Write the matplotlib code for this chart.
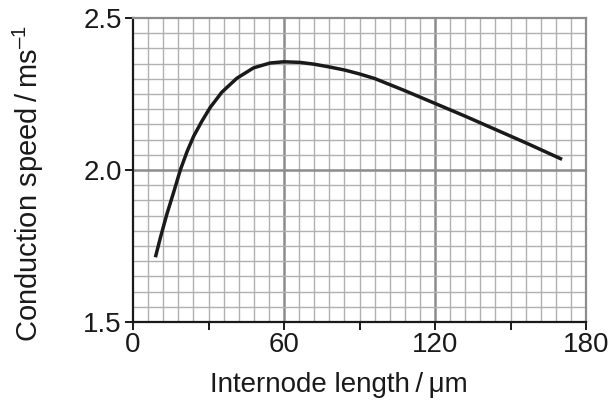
import matplotlib
matplotlib.use("Agg")
import matplotlib.pyplot as plt
import numpy as np

internode_length = [8.9, 10.9, 13.5, 16.2, 18.8, 21.5, 24.1, 27.4, 30.7, 35.3, 41.3, 47.9, 54.5, 60, 66.3, 72, 78, 84, 90, 96, 108, 120, 132, 143, 157, 170.5]
conduction_speed = [1.713, 1.778, 1.856, 1.928, 2.0, 2.061, 2.111, 2.161, 2.206, 2.256, 2.302, 2.336, 2.352, 2.356, 2.354, 2.348, 2.339, 2.329, 2.316, 2.301, 2.261, 2.219, 2.177, 2.137, 2.086, 2.035]

x_ticks = [0, 60, 120, 180]
x_minor_ticks = [30, 90, 150]
y_ticks = [1.5, 2.0, 2.5]

plt.rcParams['font.family'] = ['Liberation Sans', 'DejaVu Sans']
plt.rcParams['mathtext.fontset'] = 'custom'
plt.rcParams['mathtext.rm'] = 'Liberation Sans'
plt.rcParams['mathtext.it'] = 'Liberation Sans'
plt.rcParams['mathtext.default'] = 'regular'

fig = plt.figure(figsize=(6.10, 4.01), dpi=100)
ax = fig.add_axes([133/610, 1 - 322/401, (586 - 133)/610, (322 - 18)/401])

ax.set_xlim(0, 180)
ax.set_ylim(1.5, 2.5)

# fine grid
for gx in np.arange(6, 180, 6):
    major = abs(gx % 60) < 1e-9
    ax.axvline(gx, color='#8c8c8c' if major else '#b0b0b0', lw=1.8 if major else 1.0, zorder=0)
for gy in np.arange(1.55, 2.5, 0.05):
    major = abs(gy - 2.0) < 1e-9
    ax.axhline(gy, color='#8c8c8c' if major else '#b0b0b0', lw=1.8 if major else 1.0, zorder=0)

ax.plot(internode_length, conduction_speed, color='#1a1a1a', lw=2.5,
        solid_capstyle='butt', solid_joinstyle='round', zorder=3)

for s in ['top', 'right']:
    ax.spines[s].set_color('#8c8c8c')
    ax.spines[s].set_linewidth(1.6)
for s in ['left', 'bottom']:
    ax.spines[s].set_color('#1a1a1a')
    ax.spines[s].set_linewidth(1.6)

ax.set_xticks(x_ticks)
ax.set_xticks(x_minor_ticks, minor=True)
ax.set_yticks(y_ticks)
ax.set_yticklabels(['1.5', '2.0', '2.5'])
ax.tick_params(axis='both', which='both', direction='out', length=6, width=1.4,
               color='#1a1a1a', labelsize=20, pad=2, labelcolor='#1a1a1a')
ax.tick_params(axis='x', pad=1)

ax.set_xlabel('Internode length\u2009/\u2009\u03bcm', fontsize=20, color='#1a1a1a', labelpad=9)
ax.xaxis.set_label_coords(0.455, -0.165)
ax.set_ylabel('Conduction speed\u2009/\u2009ms$^{\u2013 1}$', fontsize=21, color='#1a1a1a')
ax.yaxis.set_label_coords(-0.192, 0.456)

fig.savefig('out.png', dpi=100)
